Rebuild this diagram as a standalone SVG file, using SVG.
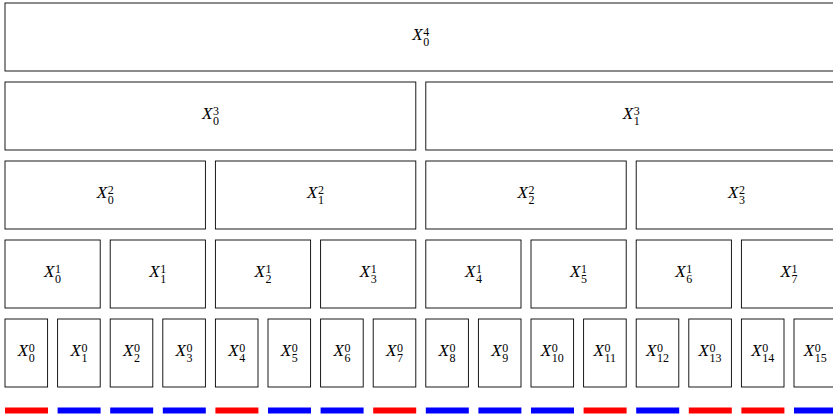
<svg xmlns="http://www.w3.org/2000/svg" width="833" height="415" viewBox="0 0 833 415">
<style>
rect.b{fill:#fff;stroke:#000;stroke-width:0.9}
text{font-family:"Liberation Serif","DejaVu Serif",serif;fill:#000}
.X{font-style:italic;font-size:17px}
.s{font-size:12px}
.r{fill:#ff0000}
.u{fill:#0000ff}
</style>
<rect width="833" height="415" fill="#fff"/>
<g id="L4">
<g id="X4_0"><rect class="b" x="5" y="3" width="831.6" height="68"/><text><tspan class="X" x="412.3" y="40">X</tspan><tspan class="s" x="423.3" y="36">4</tspan><tspan class="s" x="423.3" y="46">0</tspan></text></g>
</g>
<g id="L3">
<g id="X3_0"><rect class="b" x="5" y="82" width="410.8" height="68"/><text><tspan class="X" x="201.9" y="119">X</tspan><tspan class="s" x="212.9" y="115">3</tspan><tspan class="s" x="212.9" y="125">0</tspan></text></g>
<g id="X3_1"><rect class="b" x="425.8" y="82" width="410.8" height="68"/><text><tspan class="X" x="622.7" y="119">X</tspan><tspan class="s" x="633.7" y="115">3</tspan><tspan class="s" x="633.7" y="125">1</tspan></text></g>
</g>
<g id="L2">
<g id="X2_0"><rect class="b" x="5" y="161" width="200.4" height="68"/><text><tspan class="X" x="96.7" y="198">X</tspan><tspan class="s" x="107.7" y="194">2</tspan><tspan class="s" x="107.7" y="204">0</tspan></text></g>
<g id="X2_1"><rect class="b" x="215.4" y="161" width="200.4" height="68"/><text><tspan class="X" x="307.1" y="198">X</tspan><tspan class="s" x="318.1" y="194">2</tspan><tspan class="s" x="318.1" y="204">1</tspan></text></g>
<g id="X2_2"><rect class="b" x="425.8" y="161" width="200.4" height="68"/><text><tspan class="X" x="517.5" y="198">X</tspan><tspan class="s" x="528.5" y="194">2</tspan><tspan class="s" x="528.5" y="204">2</tspan></text></g>
<g id="X2_3"><rect class="b" x="636.2" y="161" width="200.4" height="68"/><text><tspan class="X" x="727.9" y="198">X</tspan><tspan class="s" x="738.9" y="194">2</tspan><tspan class="s" x="738.9" y="204">3</tspan></text></g>
</g>
<g id="L1">
<g id="X1_0"><rect class="b" x="5" y="240" width="95.2" height="68"/><text><tspan class="X" x="44.1" y="277">X</tspan><tspan class="s" x="55.1" y="273">1</tspan><tspan class="s" x="55.1" y="283">0</tspan></text></g>
<g id="X1_1"><rect class="b" x="110.2" y="240" width="95.2" height="68"/><text><tspan class="X" x="149.3" y="277">X</tspan><tspan class="s" x="160.3" y="273">1</tspan><tspan class="s" x="160.3" y="283">1</tspan></text></g>
<g id="X1_2"><rect class="b" x="215.4" y="240" width="95.2" height="68"/><text><tspan class="X" x="254.5" y="277">X</tspan><tspan class="s" x="265.5" y="273">1</tspan><tspan class="s" x="265.5" y="283">2</tspan></text></g>
<g id="X1_3"><rect class="b" x="320.6" y="240" width="95.2" height="68"/><text><tspan class="X" x="359.7" y="277">X</tspan><tspan class="s" x="370.7" y="273">1</tspan><tspan class="s" x="370.7" y="283">3</tspan></text></g>
<g id="X1_4"><rect class="b" x="425.8" y="240" width="95.2" height="68"/><text><tspan class="X" x="464.9" y="277">X</tspan><tspan class="s" x="475.9" y="273">1</tspan><tspan class="s" x="475.9" y="283">4</tspan></text></g>
<g id="X1_5"><rect class="b" x="531" y="240" width="95.2" height="68"/><text><tspan class="X" x="570.1" y="277">X</tspan><tspan class="s" x="581.1" y="273">1</tspan><tspan class="s" x="581.1" y="283">5</tspan></text></g>
<g id="X1_6"><rect class="b" x="636.2" y="240" width="95.2" height="68"/><text><tspan class="X" x="675.3" y="277">X</tspan><tspan class="s" x="686.3" y="273">1</tspan><tspan class="s" x="686.3" y="283">6</tspan></text></g>
<g id="X1_7"><rect class="b" x="741.4" y="240" width="95.2" height="68"/><text><tspan class="X" x="780.5" y="277">X</tspan><tspan class="s" x="791.5" y="273">1</tspan><tspan class="s" x="791.5" y="283">7</tspan></text></g>
</g>
<g id="L0">
<g id="X0_0"><rect class="b" x="5" y="319" width="42.6" height="68"/><text><tspan class="X" x="17.8" y="356">X</tspan><tspan class="s" x="28.8" y="352">0</tspan><tspan class="s" x="28.8" y="362">0</tspan></text></g>
<g id="X0_1"><rect class="b" x="57.6" y="319" width="42.6" height="68"/><text><tspan class="X" x="70.4" y="356">X</tspan><tspan class="s" x="81.4" y="352">0</tspan><tspan class="s" x="81.4" y="362">1</tspan></text></g>
<g id="X0_2"><rect class="b" x="110.2" y="319" width="42.6" height="68"/><text><tspan class="X" x="123" y="356">X</tspan><tspan class="s" x="134" y="352">0</tspan><tspan class="s" x="134" y="362">2</tspan></text></g>
<g id="X0_3"><rect class="b" x="162.8" y="319" width="42.6" height="68"/><text><tspan class="X" x="175.6" y="356">X</tspan><tspan class="s" x="186.6" y="352">0</tspan><tspan class="s" x="186.6" y="362">3</tspan></text></g>
<g id="X0_4"><rect class="b" x="215.4" y="319" width="42.6" height="68"/><text><tspan class="X" x="228.2" y="356">X</tspan><tspan class="s" x="239.2" y="352">0</tspan><tspan class="s" x="239.2" y="362">4</tspan></text></g>
<g id="X0_5"><rect class="b" x="268" y="319" width="42.6" height="68"/><text><tspan class="X" x="280.8" y="356">X</tspan><tspan class="s" x="291.8" y="352">0</tspan><tspan class="s" x="291.8" y="362">5</tspan></text></g>
<g id="X0_6"><rect class="b" x="320.6" y="319" width="42.6" height="68"/><text><tspan class="X" x="333.4" y="356">X</tspan><tspan class="s" x="344.4" y="352">0</tspan><tspan class="s" x="344.4" y="362">6</tspan></text></g>
<g id="X0_7"><rect class="b" x="373.2" y="319" width="42.6" height="68"/><text><tspan class="X" x="386" y="356">X</tspan><tspan class="s" x="397" y="352">0</tspan><tspan class="s" x="397" y="362">7</tspan></text></g>
<g id="X0_8"><rect class="b" x="425.8" y="319" width="42.6" height="68"/><text><tspan class="X" x="438.6" y="356">X</tspan><tspan class="s" x="449.6" y="352">0</tspan><tspan class="s" x="449.6" y="362">8</tspan></text></g>
<g id="X0_9"><rect class="b" x="478.4" y="319" width="42.6" height="68"/><text><tspan class="X" x="491.2" y="356">X</tspan><tspan class="s" x="502.2" y="352">0</tspan><tspan class="s" x="502.2" y="362">9</tspan></text></g>
<g id="X0_10"><rect class="b" x="531" y="319" width="42.6" height="68"/><text><tspan class="X" x="540.8" y="356">X</tspan><tspan class="s" x="551.8" y="352">0</tspan><tspan class="s" x="551.8" y="362">10</tspan></text></g>
<g id="X0_11"><rect class="b" x="583.6" y="319" width="42.6" height="68"/><text><tspan class="X" x="593.4" y="356">X</tspan><tspan class="s" x="604.4" y="352">0</tspan><tspan class="s" x="604.4" y="362">11</tspan></text></g>
<g id="X0_12"><rect class="b" x="636.2" y="319" width="42.6" height="68"/><text><tspan class="X" x="646" y="356">X</tspan><tspan class="s" x="657" y="352">0</tspan><tspan class="s" x="657" y="362">12</tspan></text></g>
<g id="X0_13"><rect class="b" x="688.8" y="319" width="42.6" height="68"/><text><tspan class="X" x="698.6" y="356">X</tspan><tspan class="s" x="709.6" y="352">0</tspan><tspan class="s" x="709.6" y="362">13</tspan></text></g>
<g id="X0_14"><rect class="b" x="741.4" y="319" width="42.6" height="68"/><text><tspan class="X" x="751.2" y="356">X</tspan><tspan class="s" x="762.2" y="352">0</tspan><tspan class="s" x="762.2" y="362">14</tspan></text></g>
<g id="X0_15"><rect class="b" x="794" y="319" width="42.6" height="68"/><text><tspan class="X" x="803.8" y="356">X</tspan><tspan class="s" x="814.8" y="352">0</tspan><tspan class="s" x="814.8" y="362">15</tspan></text></g>
</g>
<g id="bars">
<rect class="r" x="5" y="407.5" width="43" height="6"/>
<rect class="u" x="57.6" y="407.5" width="43" height="6"/>
<rect class="u" x="110.2" y="407.5" width="43" height="6"/>
<rect class="u" x="162.8" y="407.5" width="43" height="6"/>
<rect class="r" x="215.4" y="407.5" width="43" height="6"/>
<rect class="u" x="268" y="407.5" width="43" height="6"/>
<rect class="u" x="320.6" y="407.5" width="43" height="6"/>
<rect class="r" x="373.2" y="407.5" width="43" height="6"/>
<rect class="u" x="425.8" y="407.5" width="43" height="6"/>
<rect class="u" x="478.4" y="407.5" width="43" height="6"/>
<rect class="u" x="531" y="407.5" width="43" height="6"/>
<rect class="r" x="583.6" y="407.5" width="43" height="6"/>
<rect class="u" x="636.2" y="407.5" width="43" height="6"/>
<rect class="r" x="688.8" y="407.5" width="43" height="6"/>
<rect class="r" x="741.4" y="407.5" width="43" height="6"/>
<rect class="u" x="794" y="407.5" width="43" height="6"/>
</g>
</svg>
